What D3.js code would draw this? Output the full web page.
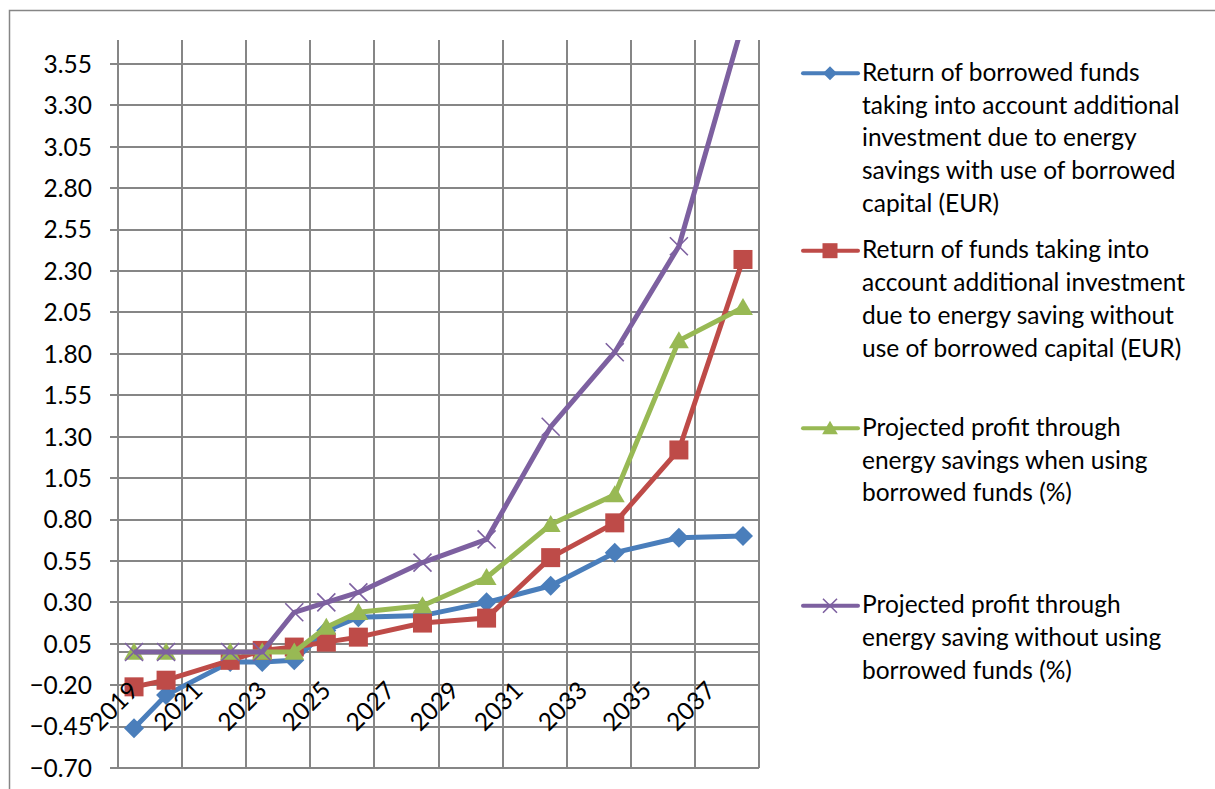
<!DOCTYPE html>
<html>
<head>
<meta charset="utf-8">
<script src="https://cdn.jsdelivr.net/npm/d3@7"></script>
<style>
  body { margin: 0; background: #fff; }
  svg { display: block; }
  text { font-family: Lato, "Open Sans", sans-serif; fill: #000; }
</style>
</head>
<body>
<svg id="chart"></svg>
<script>
// chart size
var width = 1215;
var height = 789;

var margin = {
	top: 40,
	left: 118,
	bottom: 21,
	right: 456
};

// data
var years = [2019, 2020, 2022, 2023, 2024, 2025, 2026, 2028, 2030, 2032, 2034, 2036, 2038];
var categories = ["2019", "2021", "2023", "2025", "2027", "2029", "2031", "2033", "2035", "2037"];
var yTicks = [-0.70, -0.45, -0.20, 0.05, 0.30, 0.55, 0.80, 1.05, 1.30, 1.55, 1.80, 2.05, 2.30, 2.55, 2.80, 3.05, 3.30, 3.55];

var borrowedReturn = [-0.46, -0.26, -0.06, -0.06, -0.05, 0.13, 0.21, 0.22, 0.30, 0.40, 0.60, 0.69, 0.70];
var ownReturn      = [-0.21, -0.17, -0.05, 0.01, 0.03, 0.06, 0.09, 0.175, 0.205, 0.57, 0.78, 1.22, 2.37];
var profitBorrowed = [0.00, 0.00, 0.00, 0.00, 0.00, 0.15, 0.24, 0.28, 0.45, 0.77, 0.95, 1.88, 2.08];
var profitOwn      = [0.00, 0.00, 0.00, 0.00, 0.24, 0.30, 0.36, 0.54, 0.68, 1.36, 1.81, 2.45, 3.80];

var legendLabels = [
	["Return of borrowed funds", "taking into account additional", "investment due to energy", "savings with use of borrowed", "capital (EUR)"],
	["Return of funds taking into", "account additional investment", "due to energy saving without", "use of borrowed capital (EUR)"],
	["Projected profit through", "energy savings when using", "borrowed funds (%)"],
	["Projected profit through", "energy saving without using", "borrowed funds (%)"]
];

var series = [
	{ values: borrowedReturn, color: "#4a7ebb", marker: "diamond" },
	{ values: ownReturn, color: "#be4b48", marker: "square" },
	{ values: profitBorrowed, color: "#98b954", marker: "triangle" },
	{ values: profitOwn, color: "#7d60a0", marker: "cross" }
];

var fontSize = "24.5px";

var svg = d3.select("#chart")
	.attr("width", width)
	.attr("height", height);

// outer chart border
svg.append("rect")
	.attr("x", 9.5)
	.attr("y", 10.5)
	.attr("width", width + 10)
	.attr("height", height + 10)
	.attr("fill", "none")
	.attr("stroke", "#868686")
	.attr("stroke-width", 1.5);

// scales
var xScale = d3.scaleBand().domain(categories).range([margin.left, width - margin.right]);
var xYear = d3.scaleLinear().domain([2018.5, 2038.5]).range([margin.left, width - margin.right]);
var yScale = d3.scaleLinear().domain([-0.70, 3.695]).range([height - margin.bottom, margin.top]);

var plotLeft = margin.left, plotRight = width - margin.right;
var plotTop = margin.top, plotBottom = height - margin.bottom;

var gridColor = "#868686";

// horizontal gridlines + tick marks
svg.append("g")
	.selectAll("line")
	.data(yTicks)
	.join("line")
	.attr("x1", plotLeft - 8)
	.attr("x2", plotRight)
	.attr("y1", function(d) { return Math.round(yScale(d)); })
	.attr("y2", function(d) { return Math.round(yScale(d)); })
	.attr("stroke", gridColor)
	.attr("stroke-width", 2);

// vertical gridlines at category boundaries
var boundaries = categories.map(function(c) { return xScale(c); }).concat([plotRight]);
svg.append("g")
	.selectAll("line")
	.data(boundaries)
	.join("line")
	.attr("x1", function(d) { return Math.round(d); })
	.attr("x2", function(d) { return Math.round(d); })
	.attr("y1", plotTop)
	.attr("y2", plotBottom)
	.attr("stroke", gridColor)
	.attr("stroke-width", 2);

// x axis line at zero
svg.append("line")
	.attr("x1", plotLeft)
	.attr("x2", plotRight)
	.attr("y1", Math.round(yScale(0)))
	.attr("y2", Math.round(yScale(0)))
	.attr("stroke", gridColor)
	.attr("stroke-width", 2);

// y tick labels
svg.append("g")
	.selectAll("text")
	.data(yTicks)
	.join("text")
	.attr("x", 92)
	.attr("y", function(d) { return yScale(d); })
	.attr("dy", "0.36em")
	.attr("text-anchor", "end")
	.style("font-size", fontSize)
	.text(function(d) { return d3.format(".2f")(d); });

// clip for the plot area
svg.append("clipPath")
	.attr("id", "plotclip")
	.append("rect")
	.attr("x", plotLeft)
	.attr("y", plotTop)
	.attr("width", plotRight - plotLeft)
	.attr("height", plotBottom - plotTop);

var line = d3.line()
	.x(function(d, i) { return xYear(years[i]); })
	.y(function(d) { return yScale(d); });

function drawMarker(g, type, color, s) {
	if (type == "diamond") {
		g.append("path")
			.attr("d", "M0," + (-s) + "L" + s + ",0L0," + s + "L" + (-s) + ",0Z")
			.attr("fill", color);
	} else if (type == "square") {
		g.append("rect")
			.attr("x", -s).attr("y", -s)
			.attr("width", 2 * s).attr("height", 2 * s)
			.attr("fill", color);
	} else if (type == "triangle") {
		g.append("path")
			.attr("d", "M0," + (-s) + "L" + (s * 1.05) + "," + (s * 0.8) + "L" + (-s * 1.05) + "," + (s * 0.8) + "Z")
			.attr("fill", color);
	} else {
		g.append("path")
			.attr("d", "M" + (-s) + "," + (-s) + "L" + s + "," + s + "M" + (-s) + "," + s + "L" + s + "," + (-s))
			.attr("stroke", color)
			.attr("stroke-width", 1.6)
			.attr("fill", "none");
	}
}

var plot = svg.append("g").attr("clip-path", "url(#plotclip)");

series.forEach(function(s) {
	plot.append("path")
		.attr("d", line(s.values))
		.attr("fill", "none")
		.attr("stroke", s.color)
		.attr("stroke-width", 5)
		.attr("stroke-linejoin", "round");

	s.values.forEach(function(v, i) {
		var g = plot.append("g")
			.attr("transform", "translate(" + xYear(years[i]) + "," + yScale(v) + ")");
		var size = s.marker == "diamond" ? 10 : s.marker == "square" ? 9.5 : s.marker == "triangle" ? 9.5 : 9;
		drawMarker(g, s.marker, s.color, size);
	});
});

// x category labels, rotated (drawn over the lines)
svg.append("g")
	.selectAll("text")
	.data(categories)
	.join("text")
	.attr("text-anchor", "end")
	.attr("transform", function(d) {
		return "translate(" + (xScale(d) + xScale.bandwidth() / 2 - 10) + ",692)rotate(-45)";
	})
	.style("font-size", fontSize)
	.text(function(d) { return d; });

// legend
var legendTop = 80.7, legendStep = 177.5, lineHeight = 32.8;
var legend = svg.append("g");

series.forEach(function(s, k) {
	var base = legendTop + k * legendStep;
	var my = base - 7.5;
	legend.append("line")
		.attr("x1", 803).attr("x2", 858)
		.attr("y1", my).attr("y2", my)
		.attr("stroke", s.color)
		.attr("stroke-width", 4)
		.attr("stroke-linecap", "round");
	var g = legend.append("g").attr("transform", "translate(830," + my + ")");
	var size = s.marker == "diamond" ? 7 : s.marker == "square" ? 7.5 : s.marker == "triangle" ? 7.5 : 7;
	drawMarker(g, s.marker, s.color, size);

	var t = legend.append("text").style("font-size", fontSize);
	legendLabels[k].forEach(function(txt, j) {
		t.append("tspan")
			.attr("x", 862)
			.attr("y", base + j * lineHeight)
			.text(txt);
	});
});
</script>
</body>
</html>
